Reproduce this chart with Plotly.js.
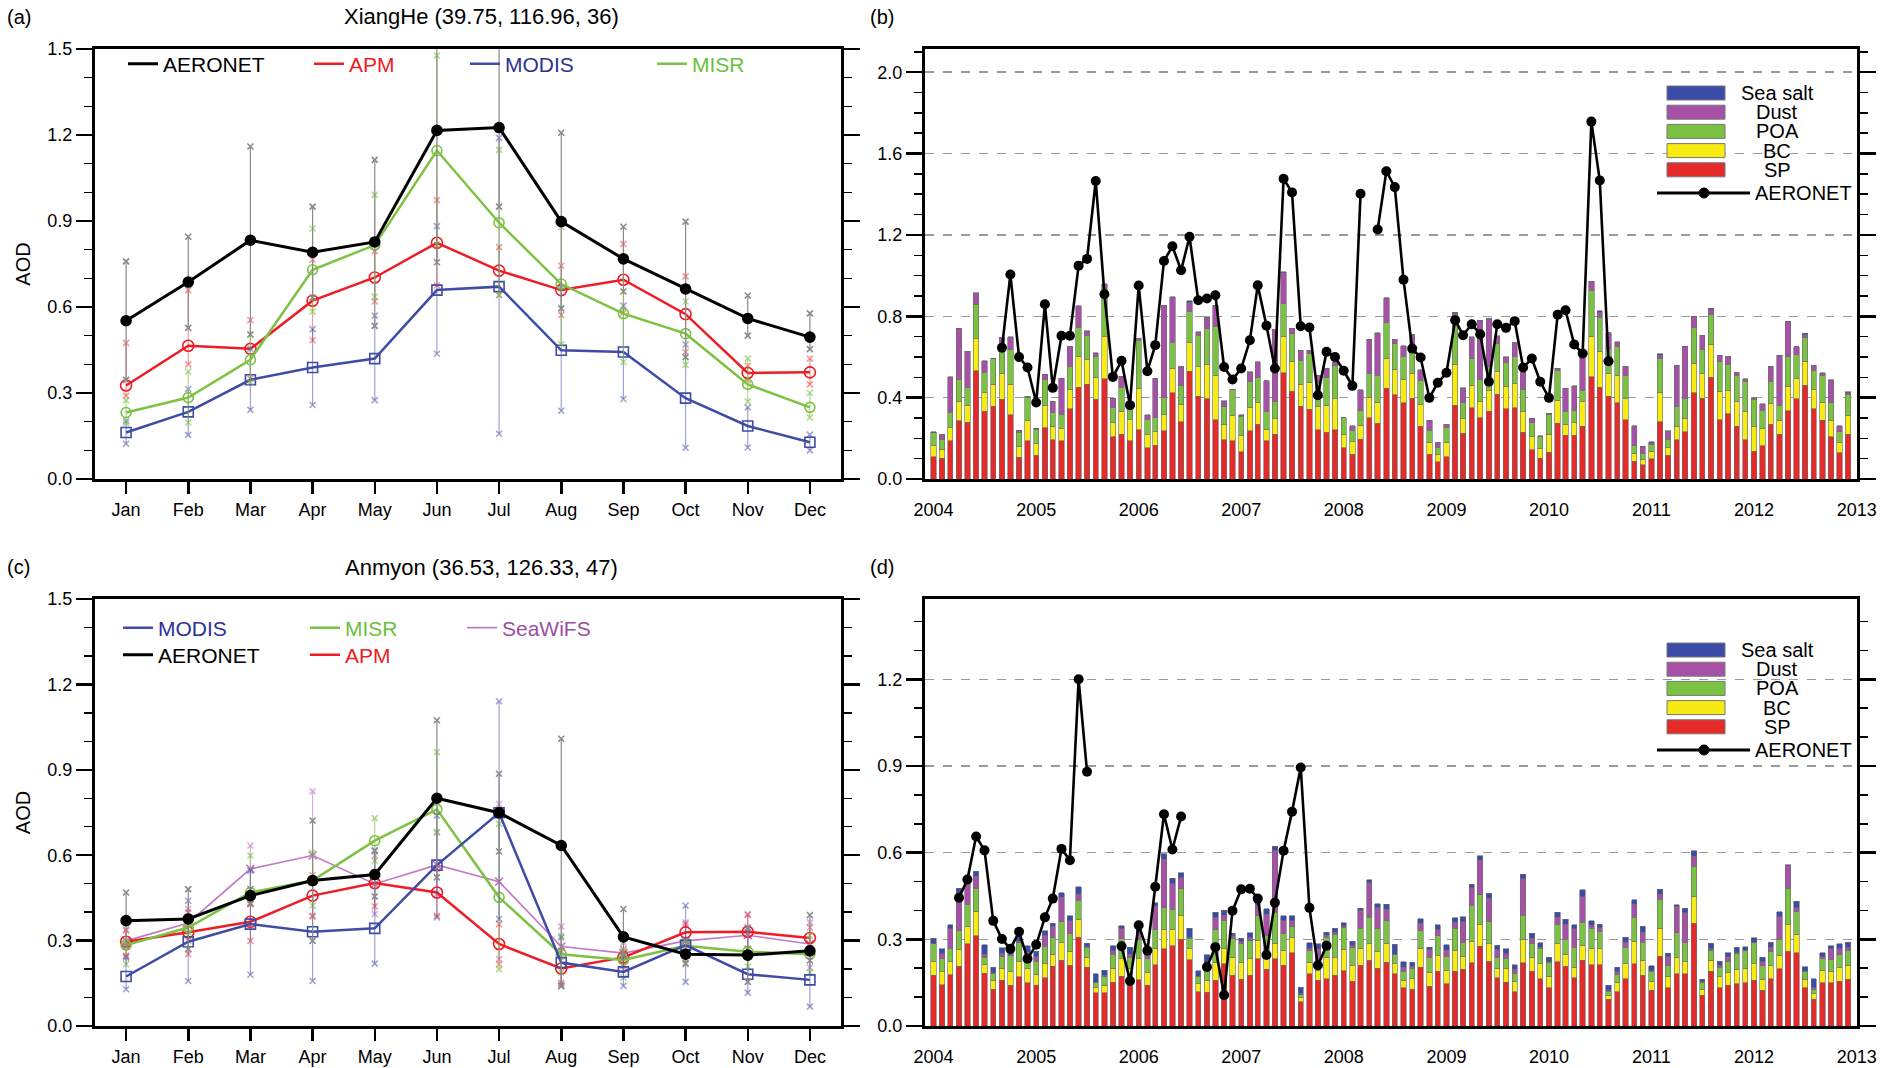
<!DOCTYPE html>
<html>
<head>
<meta charset="utf-8">
<script src="https://cdn.plot.ly/plotly-3.0.1.min.js"></script>
<style>html,body{margin:0;padding:0;background:#fff}#chart{width:1880px;height:1068px}</style>
</head>
<body>
<div id="chart"></div>
<script>
// ---------------- categories ----------------
const MONTH_LABELS = ['Jan','Feb','Mar','Apr','May','Jun','Jul','Aug','Sep','Oct','Nov','Dec'];
const MONTH_NUM = [1,2,3,4,5,6,7,8,9,10,11,12];
const YEARS = [2004,2005,2006,2007,2008,2009,2010,2011,2012];

// ---------------- panel (a) XiangHe monthly climatology ----------------
const A_AERONET    = [0.552,0.687,0.833,0.791,0.827,1.216,1.226,0.898,0.768,0.663,0.560,0.495];
const A_AERONET_HI = [0.759,0.845,1.160,0.950,1.113,1.560,1.620,1.208,0.880,0.898,0.640,0.578];
const A_AERONET_LO = [0.346,0.527,0.504,0.633,0.534,0.756,0.950,0.595,0.654,0.425,0.500,0.453];
const A_APM        = [0.326,0.465,0.454,0.622,0.703,0.824,0.727,0.659,0.695,0.575,0.370,0.372];
const A_APM_HI     = [0.475,0.659,0.554,0.765,0.795,0.973,0.809,0.744,0.820,0.707,0.395,0.420];
const A_APM_LO     = [0.290,0.400,0.350,0.484,0.619,0.675,0.642,0.572,0.580,0.443,0.345,0.330];
const A_MODIS      = [0.162,0.234,0.346,0.389,0.420,0.659,0.671,0.449,0.443,0.282,0.185,0.128];
const A_MODIS_HI   = [0.203,0.314,0.455,0.523,0.570,0.882,1.190,0.666,0.605,0.469,0.250,0.155];
const A_MODIS_LO   = [0.123,0.154,0.241,0.258,0.275,0.437,0.158,0.238,0.279,0.109,0.110,0.100];
const A_MISR       = [0.232,0.284,0.416,0.730,0.816,1.146,0.894,0.680,0.577,0.507,0.330,0.250];
const A_MISR_HI    = [0.275,0.375,0.504,0.874,0.991,1.477,1.148,0.880,0.762,0.619,0.420,0.300];
const A_MISR_LO    = [0.195,0.197,0.338,0.584,0.636,0.818,0.642,0.470,0.408,0.398,0.270,0.215];

// ---------------- panel (c) Anmyon monthly climatology ----------------
const C_AERONET    = [0.370,0.376,0.458,0.511,0.532,0.800,0.749,0.634,0.313,0.252,0.249,0.264];
const C_AERONET_HI = [0.469,0.481,0.481,0.722,0.616,1.074,0.886,1.009,0.411,0.300,0.346,0.390];
const C_AERONET_LO = [0.280,0.270,0.430,0.299,0.455,0.522,0.613,0.140,0.246,0.220,0.155,0.230];
const C_APM        = [0.296,0.329,0.366,0.458,0.502,0.469,0.288,0.202,0.241,0.329,0.331,0.309];
const C_APM_HI     = [0.335,0.399,0.428,0.530,0.540,0.552,0.358,0.264,0.270,0.358,0.390,0.346];
const C_APM_LO     = [0.246,0.252,0.299,0.385,0.420,0.387,0.217,0.147,0.211,0.270,0.272,0.272];
const C_MODIS      = [0.174,0.296,0.358,0.331,0.343,0.565,0.749,0.223,0.190,0.284,0.182,0.162];
const C_MODIS_HI   = [0.240,0.440,0.546,0.514,0.616,0.739,1.141,0.311,0.246,0.423,0.340,0.264];
const C_MODIS_LO   = [0.129,0.158,0.180,0.158,0.219,0.381,0.376,0.141,0.141,0.155,0.117,0.068];
const C_MISR       = [0.284,0.346,0.469,0.511,0.651,0.761,0.452,0.252,0.232,0.282,0.261,0.252];
const C_MISR_HI    = [0.293,0.364,0.599,0.608,0.730,0.962,0.710,0.317,0.264,0.293,0.270,0.317];
const C_MISR_LO    = [0.217,0.329,0.430,0.423,0.581,0.680,0.200,0.188,0.170,0.217,0.209,0.188];
const C_SEAWIFS    = [0.299,0.362,0.552,0.599,0.499,0.566,0.507,0.279,0.256,0.299,0.319,0.288];
const C_SEAWIFS_HI = [0.340,0.411,0.634,0.824,0.599,0.681,0.780,0.350,0.293,0.364,0.393,0.364];
const C_SEAWIFS_LO = [0.246,0.299,0.434,0.387,0.393,0.464,0.235,0.153,0.200,0.235,0.270,0.205];

// ---------------- panel (b) XiangHe monthly components 2004-2012 ----------------
const SP_B = [.109,.101,.188,.286,.279,.531,.333,.358,.393,.315,
 .106,.188,.116,.251,.194,.188,.346,.451,.465,.393,
 .494,.207,.220,.188,.243,.153,.167,.237,.424,.281,
 .529,.407,.395,.292,.194,.188,.134,.237,.269,.188,
 .220,.522,.431,.358,.344,.243,.230,.243,.153,.122,
 .196,.300,.273,.445,.415,.374,.398,.260,.122,.085,
 .109,.362,.224,.351,.300,.333,.416,.346,.351,.230,
 .145,.101,.132,.273,.216,.216,.260,.502,.452,.407,
 .374,.292,.088,.069,.100,.281,.118,.194,.232,.423,
 .398,.501,.292,.322,.260,.194,.137,.163,.269,.220,
 .335,.395,.460,.346,.289,.207,.129,.219];
const BC_B = [.054,.046,.065,.096,.082,.158,.091,.109,.127,.150,
 .056,.101,.057,.109,.065,.060,.096,.149,.122,.104,
 .205,.069,.113,.104,.201,.064,.065,.080,.118,.087,
 .140,.144,.168,.217,.075,.122,.082,.114,.105,.057,
 .077,.177,.147,.107,.132,.111,.132,.152,.067,.060,
 .069,.100,.101,.147,.124,.116,.119,.106,.057,.034,
 .069,.201,.073,.109,.082,.100,.114,.109,.118,.104,
 .062,.049,.087,.114,.052,.060,.119,.200,.175,.111,
 .136,.106,.038,.028,.034,.144,.036,.062,.065,.147,
 .119,.158,.140,.114,.122,.136,.119,.085,.101,.069,
 .121,.098,.118,.095,.085,.082,.049,.091];
const POA_B = [.065,.049,.073,.106,.091,.171,.101,.124,.122,.170,
 .067,.114,.072,.127,.070,.070,.111,.144,.118,.106,
 .237,.075,.119,.062,.237,.075,.070,.082,.131,.093,
 .155,.155,.175,.242,.085,.129,.093,.126,.124,.085,
 .082,.163,.136,.118,.139,.122,.139,.163,.080,.057,
 .070,.118,.136,.175,.126,.113,.131,.119,.060,.036,
 .075,.224,.077,.131,.106,.118,.134,.119,.131,.108,
 .070,.057,.100,.147,.065,.059,.057,.226,.168,.118,
 .142,.109,.038,.029,.036,.167,.042,.101,.098,.176,
 .122,.152,.145,.127,.127,.150,.136,.090,.111,.073,
 .147,.118,.119,.093,.136,.087,.054,.105];
const DUST_B = [0,.021,.175,.250,.175,.052,.054,0,.054,.062,
 .008,.003,.003,.026,.052,.175,.098,.106,.021,.015,
 .021,.044,.052,.016,.008,.021,.191,.454,.220,.090,
 .044,.016,.057,.101,.029,0,.005,.049,.077,.152,
 .354,.153,.024,.049,.016,.033,.041,.016,0,.020,
 .101,.166,.207,.120,.021,.049,.060,.049,.049,.023,
 .015,.029,.073,.106,.291,.237,.038,.024,.069,.116,
 .020,.003,.003,.008,.111,.122,.171,.041,.024,.082,
 .021,.046,.096,.033,.008,.016,.039,.201,.256,.052,
 .065,.020,.029,.039,.015,.011,.005,.029,.072,.245,
 .171,.038,.013,.024,.011,.109,.028,.008];
const SS_B = [.004,.002,.002,.003,.002,.003,.002,.002,.002,.002,
 .002,.002,.002,.002,.002,.002,.002,.002,.002,.002,
 .003,.002,.002,.002,.002,.002,.002,.002,.003,.002,
 .008,.002,.002,.003,.002,.002,.002,.002,.002,.002,
 .002,.003,.002,.002,.002,.002,.002,.002,.002,.002,
 .002,.002,.002,.003,.002,.002,.002,.002,.002,.002,
 .002,.003,.002,.002,.002,.002,.002,.002,.002,.002,
 .002,.002,.002,.002,.002,.002,.002,.003,.008,.002,
 .002,.002,.002,.002,.006,.008,.002,.002,.002,.002,
 .002,.008,.002,.002,.002,.002,.002,.002,.002,.002,
 .002,.002,.006,.002,.002,.002,.002,.006];
// AERONET monthly AOD at XiangHe, Jan 2004 - Aug 2010 (null = no data)
const AERONET_B = [null,null,null,null,null,null,null,null,.645,1.005,
 .600,.548,.376,.859,.448,.704,.704,1.049,1.082,1.465,
 .908,.502,.581,.363,.951,.530,.658,1.072,1.144,1.026,
 1.191,.879,.887,.903,.551,.489,.543,.682,.952,.754,
 .543,1.476,1.409,.751,.745,.412,.625,.600,.532,.458,
 1.402,null,1.227,1.513,1.435,.980,.641,.597,.399,.473,
 .522,.781,.707,.761,.712,.478,.761,.743,.776,.548,
 .592,.478,.399,.808,.830,.661,.617,1.757,1.468,.579];

// ---------------- panel (d) Anmyon monthly components 2004-2012 ----------------
const SP_D = [.175,.143,.178,.207,.284,.313,.183,.127,.158,.141,
 .170,.149,.141,.167,.207,.227,.210,.307,.204,.115,
 .115,.152,.173,.158,.160,.141,.212,.267,.278,.301,
 .230,.118,.116,.158,.215,.175,.162,.175,.233,.196,
 .233,.210,.253,.084,.181,.158,.164,.175,.192,.155,
 .210,.227,.200,.221,.181,.132,.127,.204,.137,.189,
 .147,.189,.196,.219,.276,.225,.167,.152,.118,.219,
 .189,.164,.132,.223,.207,.167,.227,.212,.212,.092,
 .118,.164,.215,.175,.124,.242,.132,.181,.181,.356,
 .107,.189,.132,.141,.147,.149,.158,.124,.164,.198,
 .259,.253,.132,.093,.149,.149,.155,.162];
const BC_D = [.049,.044,.044,.057,.061,.082,.029,.029,.042,.048,
 .054,.049,.038,.048,.042,.061,.048,.063,.034,.017,
 .026,.048,.060,.040,.072,.044,.057,.066,.057,.082,
 .037,.029,.042,.063,.052,.063,.057,.057,.063,.054,
 .052,.052,.054,.014,.040,.034,.074,.061,.074,.055,
 .060,.057,.057,.066,.034,.026,.037,.065,.049,.055,
 .044,.072,.045,.074,.077,.060,.033,.046,.037,.080,
 .049,.052,.041,.061,.042,.037,.052,.057,.057,.015,
 .031,.052,.077,.052,.031,.094,.038,.057,.042,.092,
 .021,.038,.038,.044,.049,.050,.057,.037,.046,.046,
 .092,.065,.029,.019,.044,.040,.046,.048];
const POA_D = [.060,.046,.048,.065,.077,.080,.026,.025,.041,.055,
 .064,.048,.045,.061,.057,.073,.061,.063,.034,.017,
 .029,.049,.069,.040,.069,.048,.066,.077,.069,.092,
 .037,.023,.042,.112,.097,.065,.065,.063,.086,.063,
 .109,.057,.038,.011,.040,.029,.069,.082,.074,.063,
 .069,.092,.080,.077,.034,.031,.034,.061,.052,.069,
 .048,.077,.049,.125,.102,.077,.038,.037,.026,.085,
 .049,.054,.048,.069,.052,.069,.080,.069,.057,.014,
 .029,.057,.084,.063,.034,.103,.040,.084,.066,.105,
 .022,.034,.034,.039,.054,.061,.074,.047,.048,.057,
 .125,.077,.029,.015,.040,.041,.046,.052];
const DUST_D = [0,.017,.066,.132,.069,.044,.011,.003,.011,.002,
 .005,.009,.015,.037,.040,.084,.046,.023,.002,.003,
 .006,.011,.034,.011,.023,.011,.080,.168,.089,.038,
 .003,.003,.021,.042,.019,.009,.008,.011,.034,.074,
 .212,.046,.019,.003,.006,.046,.008,.006,.006,.006,
 .061,.120,.072,.040,0,.015,.009,.026,.026,.021,
 .023,.021,.071,.061,.118,.080,.026,.015,.015,.126,
 .017,.003,.002,.023,.052,.063,.089,.011,.014,.003,
 .009,.017,.046,.034,.003,.017,.029,.092,.103,.034,
 .003,.006,.006,.015,.003,0,0,.014,.015,.077,
 .078,.015,0,.005,.006,.037,.021,.011];
const SS_D = [.019,.017,.014,.016,.017,.016,.033,.019,.019,.015,
 .021,.023,.019,.017,.009,.017,.017,.026,.013,.029,
 .017,.017,.011,.023,.017,.017,.011,.018,.018,.017,
 .031,.019,.025,.019,.018,.009,.011,.017,.025,.019,
 .017,.017,.017,.023,.021,.017,.009,.014,.011,.014,
 .008,.011,.015,.017,.034,.019,.014,.016,.008,.016,
 .019,.016,.017,.011,.017,.017,.016,.017,.016,.015,
 .017,.015,.015,.017,.017,.014,.023,.015,.013,.017,
 .017,.017,.015,.021,.017,.017,.012,.005,.015,.019,
 .009,.019,.015,.015,.019,.014,.016,.016,.017,.018,
 .005,.021,.015,.032,.015,.011,.017,.017];
// AERONET monthly AOD at Anmyon, Jan 2004 - Nov 2007 (null = no data)
const AERONET_D = [null,null,null,.444,.507,.656,.608,.364,.301,.267,
 .326,.233,.281,.376,.441,.613,.574,1.200,.880,null,
 null,null,.276,.156,.349,.261,.482,.733,.611,.725,
 null,null,.204,.273,.107,.399,.473,.475,.441,.246,
 .427,.607,.742,.895,.409,.210,.278];

// ---------------- styling ----------------
const FONT = 'Liberation Sans, Arial, Helvetica, sans-serif';
const W = 1880, H = 1068;
const px = v => v / W;
const py = v => 1 - v / H;

const COL = {
  AERONET: {line:'#000000', err:'#8a8a8a', text:'#000000'},
  APM:     {line:'#ee1c24', err:'rgba(238,28,36,0.45)', text:'#ee1c24'},
  MODIS:   {line:'#3f4ba5', err:'rgba(63,75,165,0.5)', text:'#2e3192'},
  MISR:    {line:'#7dc242', err:'rgba(125,194,66,0.6)', text:'#6cbf3c'},
  SeaWiFS: {line:'#c27ac6', err:'rgba(179,93,184,0.5)', text:'#9b4ea0'}
};
const BAR_COL = {SP:'#e52a2a', BC:'#f6ec14', POA:'#7cc242', Dust:'#a650a8', 'Sea salt':'#3b4ca8'};

const DATES = YEARS.flatMap(y => MONTH_NUM.map(m => y + '-' + String(m).padStart(2,'0') + '-01'));

const traces = [];

function monthly(opts) {
  const {mean, hi, lo, c, width, symbol, size, xa, ya, name, legend} = opts;
  traces.push({
    type:'scatter', mode:'lines', x: MONTH_NUM, y: mean, xaxis: xa, yaxis: ya,
    name, legend, showlegend:true, hoverinfo:'skip',
    line:{color:c.line, width},
    error_y:{type:'data', symmetric:false,
      array: hi.map((h,i)=>h-mean[i]), arrayminus: mean.map((m,i)=>m-lo[i]),
      color:c.err, thickness:1.2, width:0}
  });
  traces.push({
    type:'scatter', mode:'markers', x: MONTH_NUM.concat(MONTH_NUM), y: hi.concat(lo),
    xaxis: xa, yaxis: ya, showlegend:false, hoverinfo:'skip',
    marker:{symbol:'x-thin-open', size:6, color:c.err, line:{color:c.err, width:1.6}}
  });
  traces.push({
    type:'scatter', mode:'markers', x: MONTH_NUM, y: mean, xaxis: xa, yaxis: ya,
    showlegend:false, hoverinfo:'skip',
    marker:{symbol, size, color:c.line, line:{color:c.line, width:1.6}}
  });
}

// panel (a)
monthly({mean:A_APM, hi:A_APM_HI, lo:A_APM_LO, c:COL.APM, width:2.5, symbol:'circle-open', size:11, xa:'x', ya:'y', name:'APM', legend:'legend2'});
monthly({mean:A_MODIS, hi:A_MODIS_HI, lo:A_MODIS_LO, c:COL.MODIS, width:2.5, symbol:'square-open', size:10, xa:'x', ya:'y', name:'MODIS', legend:'legend3'});
monthly({mean:A_MISR, hi:A_MISR_HI, lo:A_MISR_LO, c:COL.MISR, width:2.5, symbol:'circle-open', size:10, xa:'x', ya:'y', name:'MISR', legend:'legend4'});
monthly({mean:A_AERONET, hi:A_AERONET_HI, lo:A_AERONET_LO, c:COL.AERONET, width:3, symbol:'circle', size:10, xa:'x', ya:'y', name:'AERONET', legend:'legend'});

// panel (c)
monthly({mean:C_SEAWIFS, hi:C_SEAWIFS_HI, lo:C_SEAWIFS_LO, c:COL.SeaWiFS, width:1.6, symbol:'x-thin-open', size:8, xa:'x3', ya:'y3', name:'SeaWiFS', legend:'legend7'});
monthly({mean:C_APM, hi:C_APM_HI, lo:C_APM_LO, c:COL.APM, width:2.5, symbol:'circle-open', size:11, xa:'x3', ya:'y3', name:'APM', legend:'legend9'});
monthly({mean:C_MISR, hi:C_MISR_HI, lo:C_MISR_LO, c:COL.MISR, width:2.5, symbol:'circle-open', size:10, xa:'x3', ya:'y3', name:'MISR', legend:'legend6'});
monthly({mean:C_MODIS, hi:C_MODIS_HI, lo:C_MODIS_LO, c:COL.MODIS, width:2.5, symbol:'square-open', size:10, xa:'x3', ya:'y3', name:'MODIS', legend:'legend5'});
monthly({mean:C_AERONET, hi:C_AERONET_HI, lo:C_AERONET_LO, c:COL.AERONET, width:3, symbol:'circle', size:10, xa:'x3', ya:'y3', name:'AERONET', legend:'legend8'});

// panels (b) and (d): stacked components, bottom to top
function stacked(xa, ya, comps, aeronet) {
  comps.forEach(([name, vals]) => traces.push({
    type:'bar', x: DATES, y: vals, xaxis: xa, yaxis: ya, name, showlegend:false, hoverinfo:'skip',
    marker:{color: BAR_COL[name], line:{color:'rgba(110,110,110,0.9)', width:0.7}}
  }));
  traces.push({
    type:'scatter', mode:'lines+markers', x: DATES.slice(0, aeronet.length), y: aeronet,
    xaxis: xa, yaxis: ya, showlegend:false, hoverinfo:'skip', connectgaps:false,
    line:{color:'#000', width:2.6}, marker:{color:'#000', size:10}
  });
}
stacked('x2','y2', [['SP',SP_B],['BC',BC_B],['POA',POA_B],['Dust',DUST_B],['Sea salt',SS_B]], AERONET_B);
stacked('x4','y4', [['SP',SP_D],['BC',BC_D],['POA',POA_D],['Dust',DUST_D],['Sea salt',SS_D]], AERONET_D);

// ---------------- axes ----------------
const tickFont = {family:FONT, size:18, color:'#000'};
function xMonth(domain, anchor) {
  return {domain, anchor, range:[0.5,12.5], tickmode:'array', tickvals:MONTH_NUM, ticktext:MONTH_LABELS,
    ticks:'outside', ticklen:12, tickwidth:2.5, tickcolor:'#000', showline:true, linewidth:3, linecolor:'#000',
    mirror:true, showgrid:false, zeroline:false, tickfont:tickFont, fixedrange:true};
}
function xYear(domain, anchor) {
  return {domain, anchor, type:'date', range:['2003-12-02','2013-01-02'], dtick:'M12', tick0:'2004-01-01',
    tickformat:'%Y', ticks:'outside', ticklen:12, tickcolor:'rgba(0,0,0,0)', showline:true, linewidth:3,
    linecolor:'#000', mirror:true, showgrid:false, zeroline:false, tickfont:tickFont, fixedrange:true};
}
function yAx(domain, anchor, range, dtick, grid, title) {
  const ax = {domain, anchor, range, tick0:0, dtick, tickformat:'.1f', ticks:'outside', ticklen:16, tickwidth:2.5,
    tickcolor:'#000', minor:{dtick:0.1, tick0:0, ticks:'outside', ticklen:8, tickwidth:1.5, tickcolor:'#000', showgrid:false},
    showline:true, linewidth:3, linecolor:'#000', mirror:'ticks', showgrid:grid, gridcolor:'#9a9a9a',
    gridwidth:1.4, griddash:'dash', zeroline:false, tickfont:tickFont, fixedrange:true};
  if (title) ax.title = {text:title, font:{family:FONT, size:20, color:'#000'}, standoff:12};
  return ax;
}

const TOP = [py(479), py(49)], BOT = [py(1026), py(599)];
const LEFT = [px(95), px(841)], RIGHT = [px(925), px(1857)];

function leg(xLine, yRow, color) {
  return {x:px(xLine-5), y:py(yRow), xanchor:'left', yanchor:'middle', orientation:'h',
    bgcolor:'rgba(0,0,0,0)', borderwidth:0, itemwidth:30, font:{family:FONT, size:21, color}};
}

// custom legend for the stacked panels
const shapes = [], annotations = [];
function barLegend(dy) {
  const rows = ['Sea salt','Dust','POA','BC','SP'];
  rows.forEach((lab, k) => {
    const yc = 93 + dy + k * 19.2;
    shapes.push({type:'rect', xref:'paper', yref:'paper', x0:px(1667), x1:px(1725), y0:py(yc+7), y1:py(yc-7),
      fillcolor:BAR_COL[lab], line:{color:'#777', width:1}});
    annotations.push({text:lab, xref:'paper', yref:'paper', x:px(1777), y:py(yc), xanchor:'center', yanchor:'middle',
      showarrow:false, font:{family:FONT, size:20, color:'#000'}});
  });
  const ya = 193 + dy;
  shapes.push({type:'line', xref:'paper', yref:'paper', x0:px(1657), x1:px(1750), y0:py(ya), y1:py(ya), line:{color:'#000', width:3}});
  shapes.push({type:'circle', xref:'paper', yref:'paper', x0:px(1699), x1:px(1709), y0:py(ya+5), y1:py(ya-5), fillcolor:'#000', line:{color:'#000', width:1}});
  annotations.push({text:'AERONET', xref:'paper', yref:'paper', x:px(1753), y:py(ya), xanchor:'left', yanchor:'middle',
    showarrow:false, font:{family:FONT, size:20, color:'#000'}});
}
barLegend(0);
barLegend(557);

function label(text, x, y, anchor, size) {
  annotations.push({text, xref:'paper', yref:'paper', x:px(x), y:py(y), xanchor:anchor, yanchor:'middle',
    showarrow:false, font:{family:FONT, size:size, color:'#000'}});
}
label('(a)', 5, 17, 'left', 20);
label('XiangHe (39.75, 116.96, 36)', 481, 17, 'center', 22);
label('(b)', 868, 17, 'left', 20);
label('(c)', 5, 567, 'left', 20);
label('Anmyon (36.53, 126.33, 47)', 481, 567, 'center', 22);
label('(d)', 868, 567, 'left', 20);

const layout = {
  width:W, height:H, margin:{l:0, r:0, t:0, b:0, pad:0},
  paper_bgcolor:'#fff', plot_bgcolor:'#fff',
  font:{family:FONT, size:18, color:'#000'},
  barmode:'stack', bargap:0.32, showlegend:true,
  xaxis: xMonth(LEFT, 'y'),
  yaxis: yAx(TOP, 'x', [0,1.5], 0.3, false, 'AOD'),
  xaxis2: xYear(RIGHT, 'y2'),
  yaxis2: yAx(TOP, 'x2', [0,2.114], 0.4, true),
  xaxis3: xMonth(LEFT, 'y3'),
  yaxis3: yAx(BOT, 'x3', [0,1.5], 0.3, false, 'AOD'),
  xaxis4: xYear(RIGHT, 'y4'),
  yaxis4: yAx(BOT, 'x4', [0,1.478], 0.3, true),
  legend:  leg(128, 64, COL.AERONET.text),
  legend2: leg(314, 64, COL.APM.text),
  legend3: leg(470, 64, COL.MODIS.text),
  legend4: leg(657, 64, COL.MISR.text),
  legend5: leg(123, 628, COL.MODIS.text),
  legend6: leg(310, 628, COL.MISR.text),
  legend7: leg(467, 628, COL.SeaWiFS.text),
  legend8: leg(123, 655, COL.AERONET.text),
  legend9: leg(310, 655, COL.APM.text),
  shapes, annotations
};

Plotly.newPlot('chart', traces, layout, {staticPlot:true, displayModeBar:false});
</script>
</body>
</html>
